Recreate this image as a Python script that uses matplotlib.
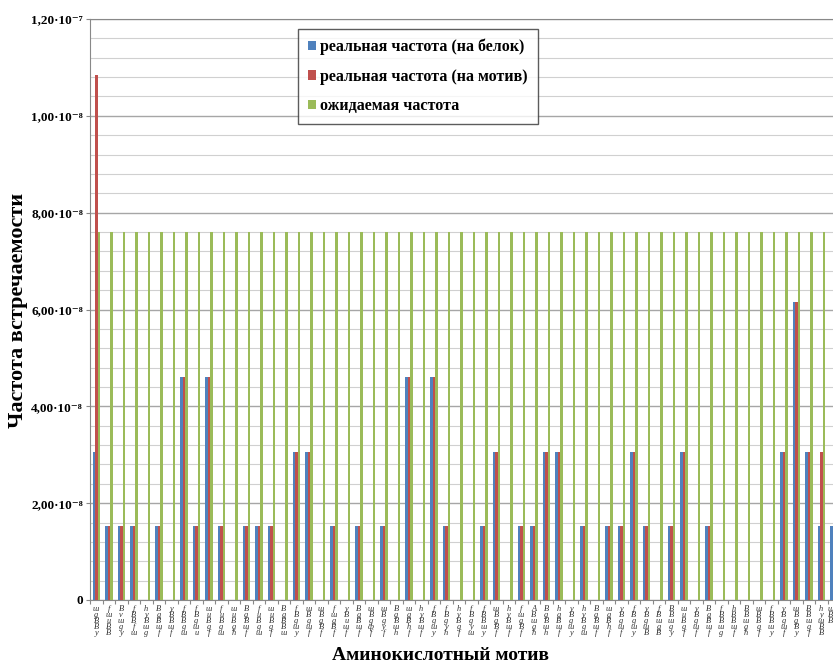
import matplotlib.pyplot as plt
import numpy as np

# motif labels (as they appear under the axis)
motifs = [
    "шgBBy", "fшuBB", "Bvшgy", "fBBfш", "hyBшg", "BgBшf", "yBBшf", "fBBgш", "fBgшu", "шuBgf",
    "fuBgш", "шuBgh", "BgBшf", "fuBgш", "шuBgf", "BgBBш", "fBgшy", "шBgшf", "шBgBf", "fшgBf",
    "yBuшf", "BgBшf", "шBgфf", "шBgyf", "BgBшh", "шgBhf", "hyBшf", "fBgшy", "fBgyh", "hyBgf",
    "fBgyш", "fBBшy", "шBgBf", "hyBшf", "fшgBf", "ABшgh", "BgBшh", "hgBшf", "yBgшy", "hyBgш",
    "BgBшf", "шgBhf", "yBgшf", "fBgшy", "yBgшB", "fBшgB", "BBшgy", "шuBgf", "yBgшf", "BgBшf",
    "fBBшg", "hBBшf", "BBшgh", "шBBgf", "fBBшy", "yBgшf", "шBgBy", "BBшgf", "hyшBB", "шBBgf",
]

# values, units of 1e-8
blue_vals = [
    3.06, 1.53, 1.53, 1.53, 0, 1.53, 0, 4.60, 1.53, 4.60,
    1.53, 0, 1.53, 1.53, 1.53, 0, 3.06, 3.06, 0, 1.53,
    0, 1.53, 0, 1.53, 0, 4.60, 0, 4.60, 1.53, 0,
    0, 1.53, 3.06, 0, 1.53, 1.53, 3.06, 3.06, 0, 1.53,
    0, 1.53, 1.53, 3.06, 1.53, 0, 1.53, 3.06, 0, 1.53,
    0, 0, 0, 0, 0, 3.06, 6.16, 3.06, 1.53, 1.53,
]
red_vals = [
    10.85, 1.53, 1.53, 1.53, 0, 1.53, 0, 4.60, 1.53, 4.60,
    1.53, 0, 1.53, 1.53, 1.53, 0, 3.06, 3.06, 0, 1.53,
    0, 1.53, 0, 1.53, 0, 4.60, 0, 4.60, 1.53, 0,
    0, 1.53, 3.06, 0, 1.53, 1.53, 3.06, 3.06, 0, 1.53,
    0, 1.53, 1.53, 3.06, 1.53, 0, 1.53, 3.06, 0, 1.53,
    0, 0, 0, 0, 0, 3.06, 6.16, 3.06, 3.06, 1.53,
]
expected_vals = [7.6] * 60

series_names = [
    "реальная частота (на белок)",
    "реальная частота (на мотив)",
    "ожидаемая частота",
]

ytick_vals = [0, 2e-8, 4e-8, 6e-8, 8e-8, 1.0e-7, 1.2e-7]
ytick_labels = ["0", "2,00·10⁻⁸", "4,00·10⁻⁸", "6,00·10⁻⁸", "8,00·10⁻⁸", "1,00·10⁻⁸", "1,20·10⁻⁷"]

serif = ["Liberation Serif", "DejaVu Serif"]
plt.rcParams["font.family"] = serif

scale = 1e-8
x = np.arange(len(motifs))
w = 0.2

fig = plt.figure(figsize=(8.33, 6.66), dpi=100)
ax = fig.add_axes([90 / 833, 66 / 666, 750 / 833, 581 / 666])

ax.bar(x - 0.2, np.array(blue_vals) * scale, width=w, color="#4f81bd", label=series_names[0], zorder=3)
ax.bar(x, np.array(red_vals) * scale, width=w, color="#c0504d", label=series_names[1], zorder=3)
ax.bar(x + 0.2, np.array(expected_vals) * scale, width=w, color="#9bbb59", label=series_names[2], zorder=3)

ax.set_xlim(-0.5, len(motifs) - 0.5)
ax.set_ylim(0, 1.2e-7)

ax.set_yticks(ytick_vals)
ax.set_yticklabels(ytick_labels, fontsize=9.5, fontweight="bold", family=serif)
ax.set_yticks(np.arange(0, 1.2e-7, 4e-9), minor=True)
ax.tick_params(axis="y", which="minor", length=0)
ax.tick_params(axis="y", which="major", length=3, color="#888888", pad=2)

ax.grid(axis="y", which="major", color="#a6a6a6", linewidth=1.0, zorder=0)
ax.grid(axis="y", which="minor", color="#d0d0d0", linewidth=0.8, zorder=0)

ax.set_xticks(np.arange(len(motifs) + 1) - 0.5)
ax.set_xticklabels([])
ax.tick_params(axis="x", length=3, color="#888888")

# the last label is cut by the right edge, as in the source image
for i, m in enumerate(motifs[:-1]):
    ax.text(i, -0.008, "\n".join(m), transform=ax.get_xaxis_transform(),
            ha="center", va="top", fontsize=6, style="italic",
            linespacing=0.7, color="#333333")
ax.text(len(motifs) - 1.25, -0.008, "\n".join(motifs[-1][:3]), transform=ax.get_xaxis_transform(),
        ha="center", va="top", fontsize=6, style="italic", linespacing=0.7, color="#333333")

for s in ["left", "bottom", "top"]:
    ax.spines[s].set_color("#888888")
ax.spines["right"].set_visible(False)

leg = ax.legend(loc="upper left", bbox_to_anchor=(298 / 833, 1 - 29 / 666),
                bbox_transform=fig.transFigure, frameon=True, fancybox=False,
                prop={"family": serif, "weight": "bold", "size": 11.5},
                handlelength=0.55, handleheight=0.55, handletextpad=0.25,
                labelspacing=0.85, borderpad=0.6, borderaxespad=0)
leg.get_frame().set_edgecolor("#333333")
leg.get_frame().set_linewidth(1.0)

fig.text(18 / 833, 1 - 310 / 666, "Частота встречаемости", rotation=90,
         ha="center", va="center", fontsize=16, fontweight="bold")
fig.text(440 / 833, 1 - 655 / 666, "Аминокислотный мотив",
         ha="center", va="center", fontsize=14, fontweight="bold")

fig.savefig("out.png", dpi=100)
